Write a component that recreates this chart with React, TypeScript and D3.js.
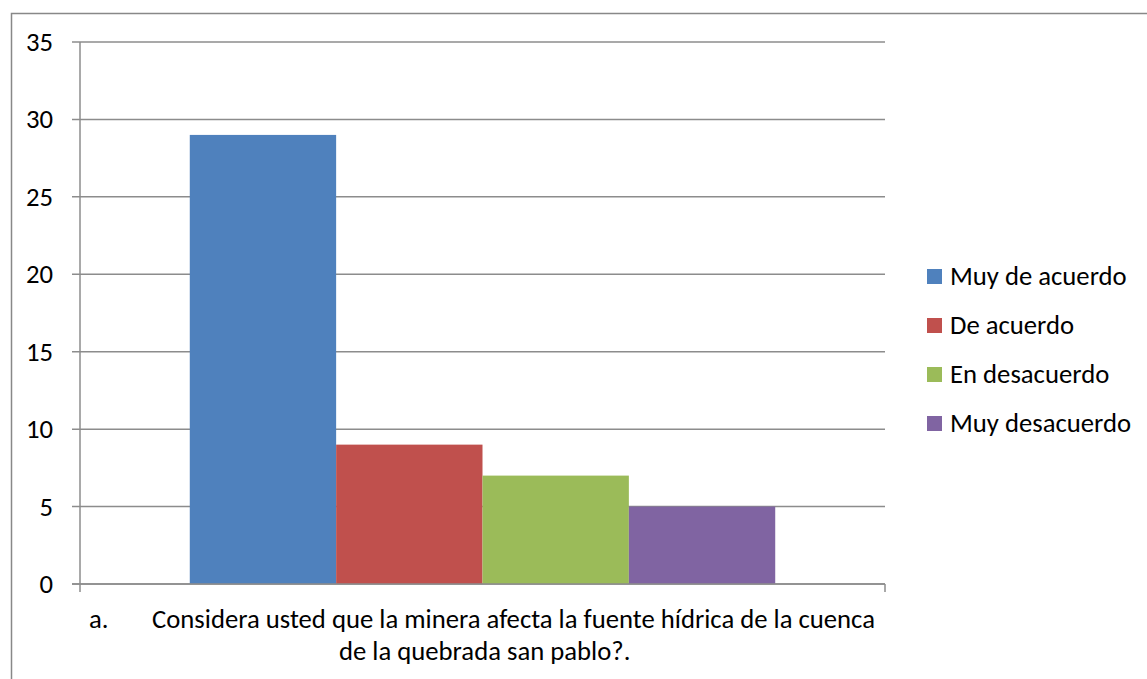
import React from "react";
import * as d3 from "d3";

const categories = ["a."];
const categoryLine1 = "Considera usted que la minera afecta la fuente hídrica de la cuenca";
const categoryLine2 = "de la quebrada san pablo?.";
const seriesNames = ["Muy de acuerdo", "De acuerdo", "En desacuerdo", "Muy desacuerdo"];
const seriesValues = [29, 9, 7, 5];
const seriesColors = ["#4F81BD", "#C0504D", "#9BBB59", "#8064A2"];
const yTicks = [0, 5, 10, 15, 20, 25, 30, 35];

const W = 1147;
const H = 679;
const plot = { left: 80, right: 885, top: 42, bottom: 584 };
const FONT = "Carlito, Calibri, Lato, 'Open Sans', sans-serif";
const FS = 26.7;

export default function App() {
  const y = d3.scaleLinear().domain([0, 35]).range([plot.bottom, plot.top]);
  const xOuter = d3
    .scaleBand<string>()
    .domain(categories)
    .range([plot.left, plot.right])
    .paddingInner(0)
    .paddingOuter(0.1875);
  const x0 = xOuter(categories[0]) as number;
  const xInner = d3
    .scaleBand<string>()
    .domain(seriesNames)
    .range([x0, x0 + xOuter.bandwidth()])
    .padding(0);

  const grid = "#8c8c8c";

  return (
    <svg
      width={W}
      height={H}
      style={{ position: "absolute", left: 0, top: 0, background: "#fff" }}
      fontFamily={FONT}
    >
      <rect x={0} y={0} width={W} height={H} fill="#fff" />
      {/* outer chart border */}
      <rect x={11.5} y={13.5} width={W + 20} height={H + 20} fill="none" stroke="#888" strokeWidth={1.5} />

      {/* gridlines & y ticks */}
      {yTicks.map((t) => (
        <g key={t}>
          <line x1={plot.left - 8} x2={plot.right} y1={y(t)} y2={y(t)} stroke={grid} strokeWidth={1.5} />
          <text x={53} y={y(t) + 9} textAnchor="end" fontSize={FS} fill="#000">
            {t}
          </text>
        </g>
      ))}

      {/* bars */}
      {seriesNames.map((s, i) => (
        <rect
          key={s}
          x={xInner(s) as number}
          y={y(seriesValues[i])}
          width={xInner.bandwidth()}
          height={y(0) - y(seriesValues[i])}
          fill={seriesColors[i]}
        />
      ))}

      {/* axes */}
      <line x1={plot.left} x2={plot.left} y1={plot.top} y2={plot.bottom + 8} stroke={grid} strokeWidth={1.5} />
      <line x1={plot.left - 8} x2={plot.right} y1={plot.bottom} y2={plot.bottom} stroke={grid} strokeWidth={1.5} />
      <line x1={plot.right} x2={plot.right} y1={plot.bottom} y2={plot.bottom + 8} stroke={grid} strokeWidth={1.5} />

      {/* category label */}
      <text x={89} y={628} fontSize={FS} fill="#000">
        {categories[0]}
      </text>
      <text x={152} y={628} fontSize={FS} fill="#000">
        {categoryLine1}
      </text>
      <text x={339} y={660} fontSize={FS} fill="#000">
        {categoryLine2}
      </text>

      {/* legend */}
      {seriesNames.map((s, i) => {
        const cy = 276 + i * 49;
        return (
          <g key={s}>
            <rect x={927} y={cy - 7} width={15} height={15} fill={seriesColors[i]} />
            <text x={950} y={cy + 9} fontSize={FS} fill="#000">
              {s}
            </text>
          </g>
        );
      })}
    </svg>
  );
}
